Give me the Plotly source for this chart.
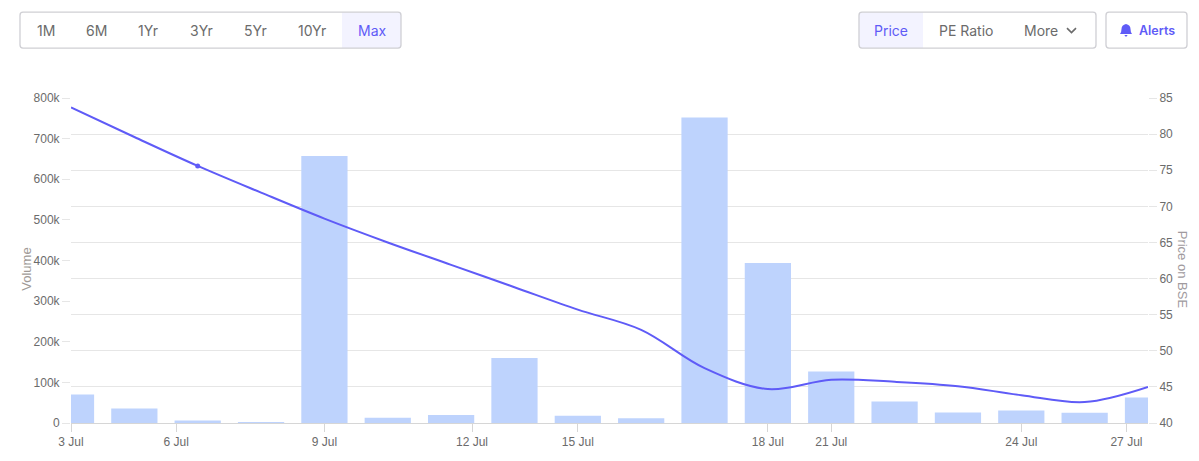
import plotly.graph_objects as go

# ---------- data ----------
bar_index = list(range(18))
volume = [70000, 36000, 6000, 500, 657000, 13000, 20000, 160000, 18000, 12000,
          752000, 394000, 127000, 53000, 26000, 31000, 25000, 63000]
price = [83.7, 79.6, 75.6, 71.9, 68.3, 65.0, 61.9, 58.8, 55.7, 52.9,
         47.6, 44.7, 46.0, 45.7, 45.1, 43.85, 42.9, 45.0]
tick_index = [0, 1.66, 4, 6.33, 8, 11, 12, 15, 16.66]
tick_labels = ["3 Jul", "6 Jul", "9 Jul", "12 Jul", "15 Jul", "18 Jul", "21 Jul", "24 Jul", "27 Jul"]
volume_ticks = [0, 100000, 200000, 300000, 400000, 500000, 600000, 700000, 800000]
volume_labels = ["0", "100k", "200k", "300k", "400k", "500k", "600k", "700k", "800k"]
price_ticks = [40, 45, 50, 55, 60, 65, 70, 75, 80, 85]
range_buttons = ["1M", "6M", "1Yr", "3Yr", "5Yr", "10Yr", "Max"]
range_centers = [45.5, 96, 148, 201, 255, 312, 372]
highlight_point = 2

# ---------- layout constants ----------
W, H = 1199, 461
L, R, T, B = 71, 1148, 98, 423.5
PURPLE = "#5F5BF7"
HILITE = "#F3F3FF"
BORDER = "#CFCFD4"
TEXT = "#6B6B6B"
AXIS_FONT = "Liberation Sans, Arial, sans-serif"
UI_FONT = "Inter, sans-serif"


def px(x):
    return (x - L) / (R - L)


def py(y):
    return (B - y) / (B - T)


def rounded(x0, y0, x1, y1, r=3):
    return (f"M{px(x0+r)},{py(y0)} L{px(x1-r)},{py(y0)} Q{px(x1)},{py(y0)} {px(x1)},{py(y0+r)} "
            f"L{px(x1)},{py(y1-r)} Q{px(x1)},{py(y1)} {px(x1-r)},{py(y1)} "
            f"L{px(x0+r)},{py(y1)} Q{px(x0)},{py(y1)} {px(x0)},{py(y1-r)} "
            f"L{px(x0)},{py(y0+r)} Q{px(x0)},{py(y0)} {px(x0+r)},{py(y0)} Z")


def box(x0, y0, x1, y1):
    return dict(type="path", xref="paper", yref="paper", path=rounded(x0, y0, x1, y1),
                line=dict(color=BORDER, width=1.3), fillcolor="rgba(0,0,0,0)", layer="above")


def fill(x0, y0, x1, y1):
    return dict(type="rect", xref="paper", yref="paper", x0=px(x0), x1=px(x1), y0=py(y0), y1=py(y1),
                line=dict(width=0), fillcolor=HILITE, layer="below")


def label(x, y, text, color=TEXT, size=14, family=UI_FONT, angle=0, weight=None):
    font = dict(color=color, size=size, family=family)
    if weight:
        font["weight"] = weight
    return dict(xref="paper", yref="paper", x=px(x), y=py(y), text=text, showarrow=False,
                xanchor="center", yanchor="middle", font=font, textangle=angle)


fig = go.Figure()
fig.add_bar(x=bar_index, y=volume, width=0.73, marker=dict(color="#BED3FD", line=dict(width=0)),
            yaxis="y", name="Volume", showlegend=False)
fig.add_scatter(x=bar_index, y=price, mode="lines", line=dict(color=PURPLE, width=2, shape="spline", smoothing=1.0),
                yaxis="y2", name="Price on BSE", showlegend=False)
fig.add_scatter(x=[bar_index[highlight_point]], y=[price[highlight_point]], mode="markers",
                marker=dict(color=PURPLE, size=5), yaxis="y2", showlegend=False)

bell = (f"M{px(1126)},{py(24)} Q{px(1130.5)},{py(25)} {px(1130.5)},{py(29)} Q{px(1130.5)},{py(32)} {px(1132)},{py(34)} "
        f"L{px(1120)},{py(34)} Q{px(1121.5)},{py(32)} {px(1121.5)},{py(29)} Q{px(1121.5)},{py(25)} {px(1126)},{py(24)} Z "
        f"M{px(1124.3)},{py(35)} L{px(1127.7)},{py(35)} L{px(1126)},{py(37)} Z")
chevron = f"M{px(1067)},{py(28)} L{px(1071.5)},{py(32.5)} L{px(1076)},{py(28)}"

shapes = [
    fill(342, 12, 401, 48), fill(859, 12, 923, 48),
    box(20, 12, 401, 48), box(859, 12, 1096, 48), box(1106, 12, 1187, 48),
    dict(type="path", xref="paper", yref="paper", path=chevron, line=dict(color=TEXT, width=1.6), layer="above"),
    dict(type="path", xref="paper", yref="paper", path=bell, line=dict(width=0), fillcolor=PURPLE, layer="above"),
]

annotations = [label(c, 30, t, color=PURPLE if t == "Max" else TEXT) for t, c in zip(range_buttons, range_centers)]
annotations += [
    label(891, 30, "Price", color=PURPLE),
    label(966, 30, "PE Ratio"),
    label(1041, 30, "More"),
    label(1157, 30, "Alerts", color=PURPLE, size=12.5, weight=600),
    label(27, 270, "Volume", color="#A09A96", size=13, family=AXIS_FONT, angle=-90),
    label(1182, 270, "Price on BSE", color="#A09A9E", size=13, family=AXIS_FONT, angle=90),
]

fig.update_layout(
    width=W, height=H, autosize=False, bargap=0.27,
    margin=dict(l=L, r=W - R, t=T, b=H - B),
    paper_bgcolor="white", plot_bgcolor="white", showlegend=False, hovermode=False,
    font=dict(family=AXIS_FONT, size=12, color=TEXT),
    shapes=shapes, annotations=annotations,
    xaxis=dict(range=[0, 17], tickmode="array", tickvals=tick_index, ticktext=tick_labels,
               showgrid=False, zeroline=False, showline=True, linecolor="#D6D6D6", linewidth=1,
               ticks="outside", ticklen=8, tickcolor="#D6D6D6", tickangle=0,
               tickfont=dict(size=12, color=TEXT)),
    yaxis=dict(range=[0, 800000], tickmode="array", tickvals=volume_ticks, ticktext=volume_labels,
               showgrid=False, zeroline=False, showline=False,
               ticks="outside", ticklen=8, tickcolor="#E6E6E6", tickfont=dict(size=12, color=TEXT)),
    yaxis2=dict(range=[40, 85], overlaying="y", side="right", tickmode="array", tickvals=price_ticks,
                showgrid=True, gridcolor="#E6E6E6", gridwidth=1, zeroline=False, showline=False,
                ticks="outside", ticklen=8, tickcolor="#E6E6E6", tickfont=dict(size=12, color=TEXT)),
)

fig.write_html("out.html", config=dict(displayModeBar=False),
               post_script="document.body.style.margin='0';document.body.style.overflow='hidden';")
